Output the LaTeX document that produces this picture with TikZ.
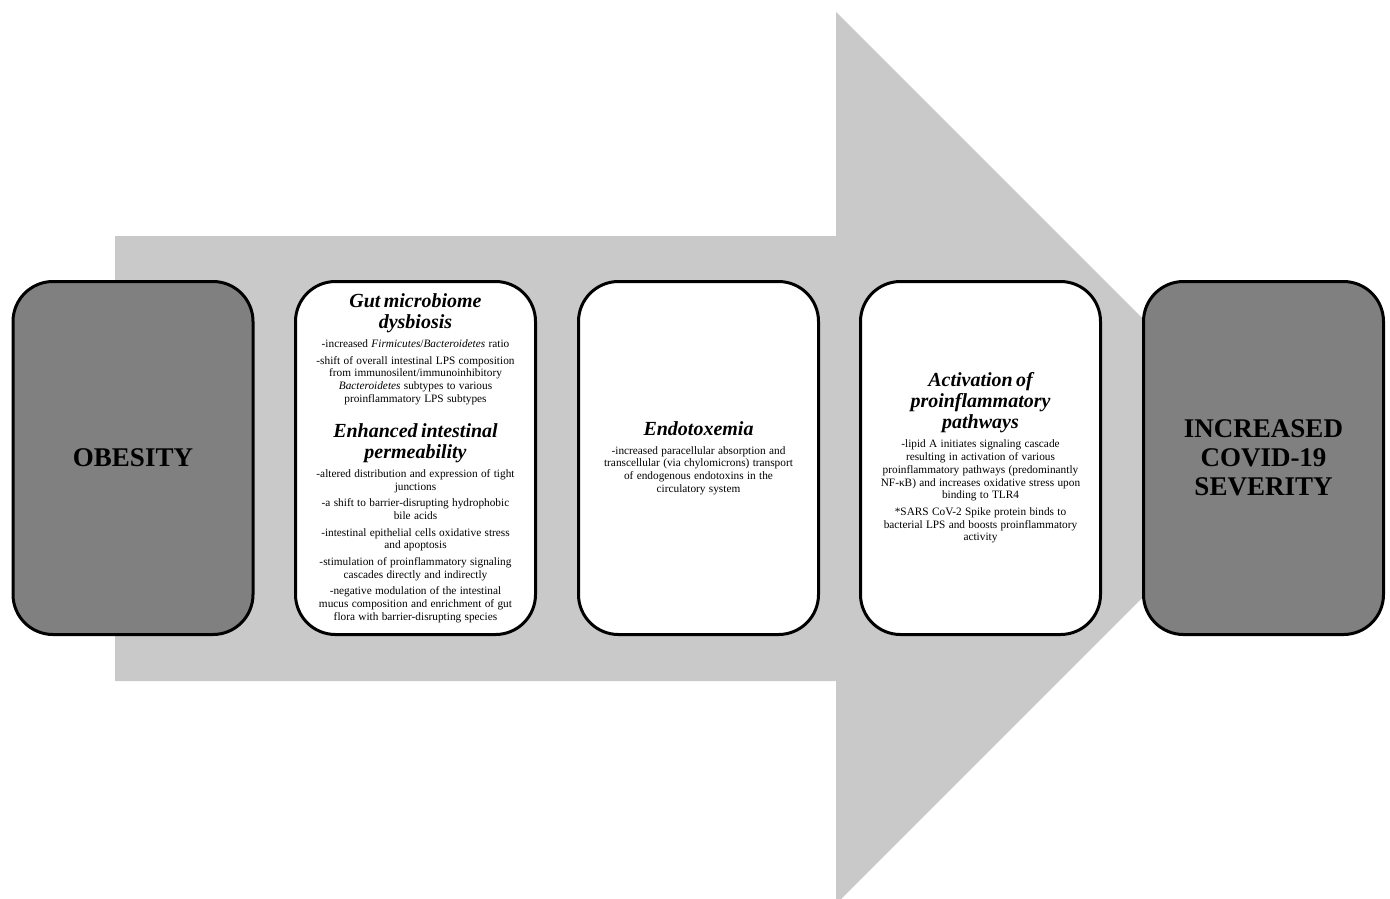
\documentclass[tikz,border=0pt]{standalone}
\usepackage{fontspec}
\setmainfont{Liberation Serif}
\usepackage{tikz}

\tikzset{
  stage/.style={draw=black, line width=3pt, rounded corners=40pt, minimum width=240pt, minimum height=353pt, text width=236pt, align=center, inner sep=0pt},
  outerstage/.style={stage, fill=black!50},
  midstage/.style={stage, fill=white}
}
\newcommand{\stagetitle}[1]{{\fontsize{20}{21}\selectfont\bfseries\itshape #1\par}\vspace{6.5pt}}
\newcommand{\stageitem}[1]{{\fontsize{11.3}{12.7}\selectfont #1\par}\vspace{4pt}}
\newcommand{\outerlabel}[1]{{\fontsize{27}{29}\selectfont\bfseries #1\par}}

\begin{document}
\begin{tikzpicture}[x=1pt, y=-1pt]
        \useasboundingbox[fill=white] (0,0) rectangle (1390,898);

         % Freccia di fondo
        \fill[black!21] (115,236) -- (836,236) -- (836,12) -- (1282,458) -- (836,904) -- (836,681) -- (115,681) -- cycle;

         % Riquadri
        \node[outerstage] (obesity) at (133,458) {\outerlabel{OBESITY}};
        \node[midstage] (dysbiosis) at (415.5,458) {%
          \stagetitle{Gut microbiome\\dysbiosis}
          \stageitem{-increased \textit{Firmicutes}/\textit{Bacteroidetes} ratio}
          \stageitem{-shift of overall intestinal LPS composition\\from immunosilent/immunoinhibitory\\\textit{Bacteroidetes} subtypes to various\\proinflammatory LPS subtypes}
          \vspace{10pt}
          \stagetitle{Enhanced intestinal\\permeability}
          \stageitem{-altered distribution and expression of tight\\junctions}
          \stageitem{-a shift to barrier-disrupting hydrophobic\\bile acids}
          \stageitem{-intestinal epithelial cells oxidative stress\\and apoptosis}
          \stageitem{-stimulation of proinflammatory signaling\\cascades directly and indirectly}
          \stageitem{-negative modulation of the intestinal\\mucus composition and enrichment of gut\\flora with barrier-disrupting species}};
        \node[midstage] (endotoxemia) at (698.5,458) {%
          \stagetitle{Endotoxemia}
          \stageitem{-increased paracellular absorption and\\transcellular (via chylomicrons) transport\\of endogenous endotoxins in the\\circulatory system}};
        \node[midstage] (activation) at (980.5,458) {%
          \stagetitle{Activation of\\proinflammatory\\pathways}
          \stageitem{-lipid A initiates signaling cascade\\resulting in activation of various\\proinflammatory pathways (predominantly\\NF-κB) and increases oxidative stress upon\\binding to TLR4}
          \stageitem{*SARS CoV-2 Spike protein binds to\\bacterial LPS and boosts proinflammatory\\activity}};
        \node[outerstage] (severity) at (1263.5,458) {\outerlabel{INCREASED\\COVID-19\\SEVERITY}};
    \end{tikzpicture}
\end{document}
